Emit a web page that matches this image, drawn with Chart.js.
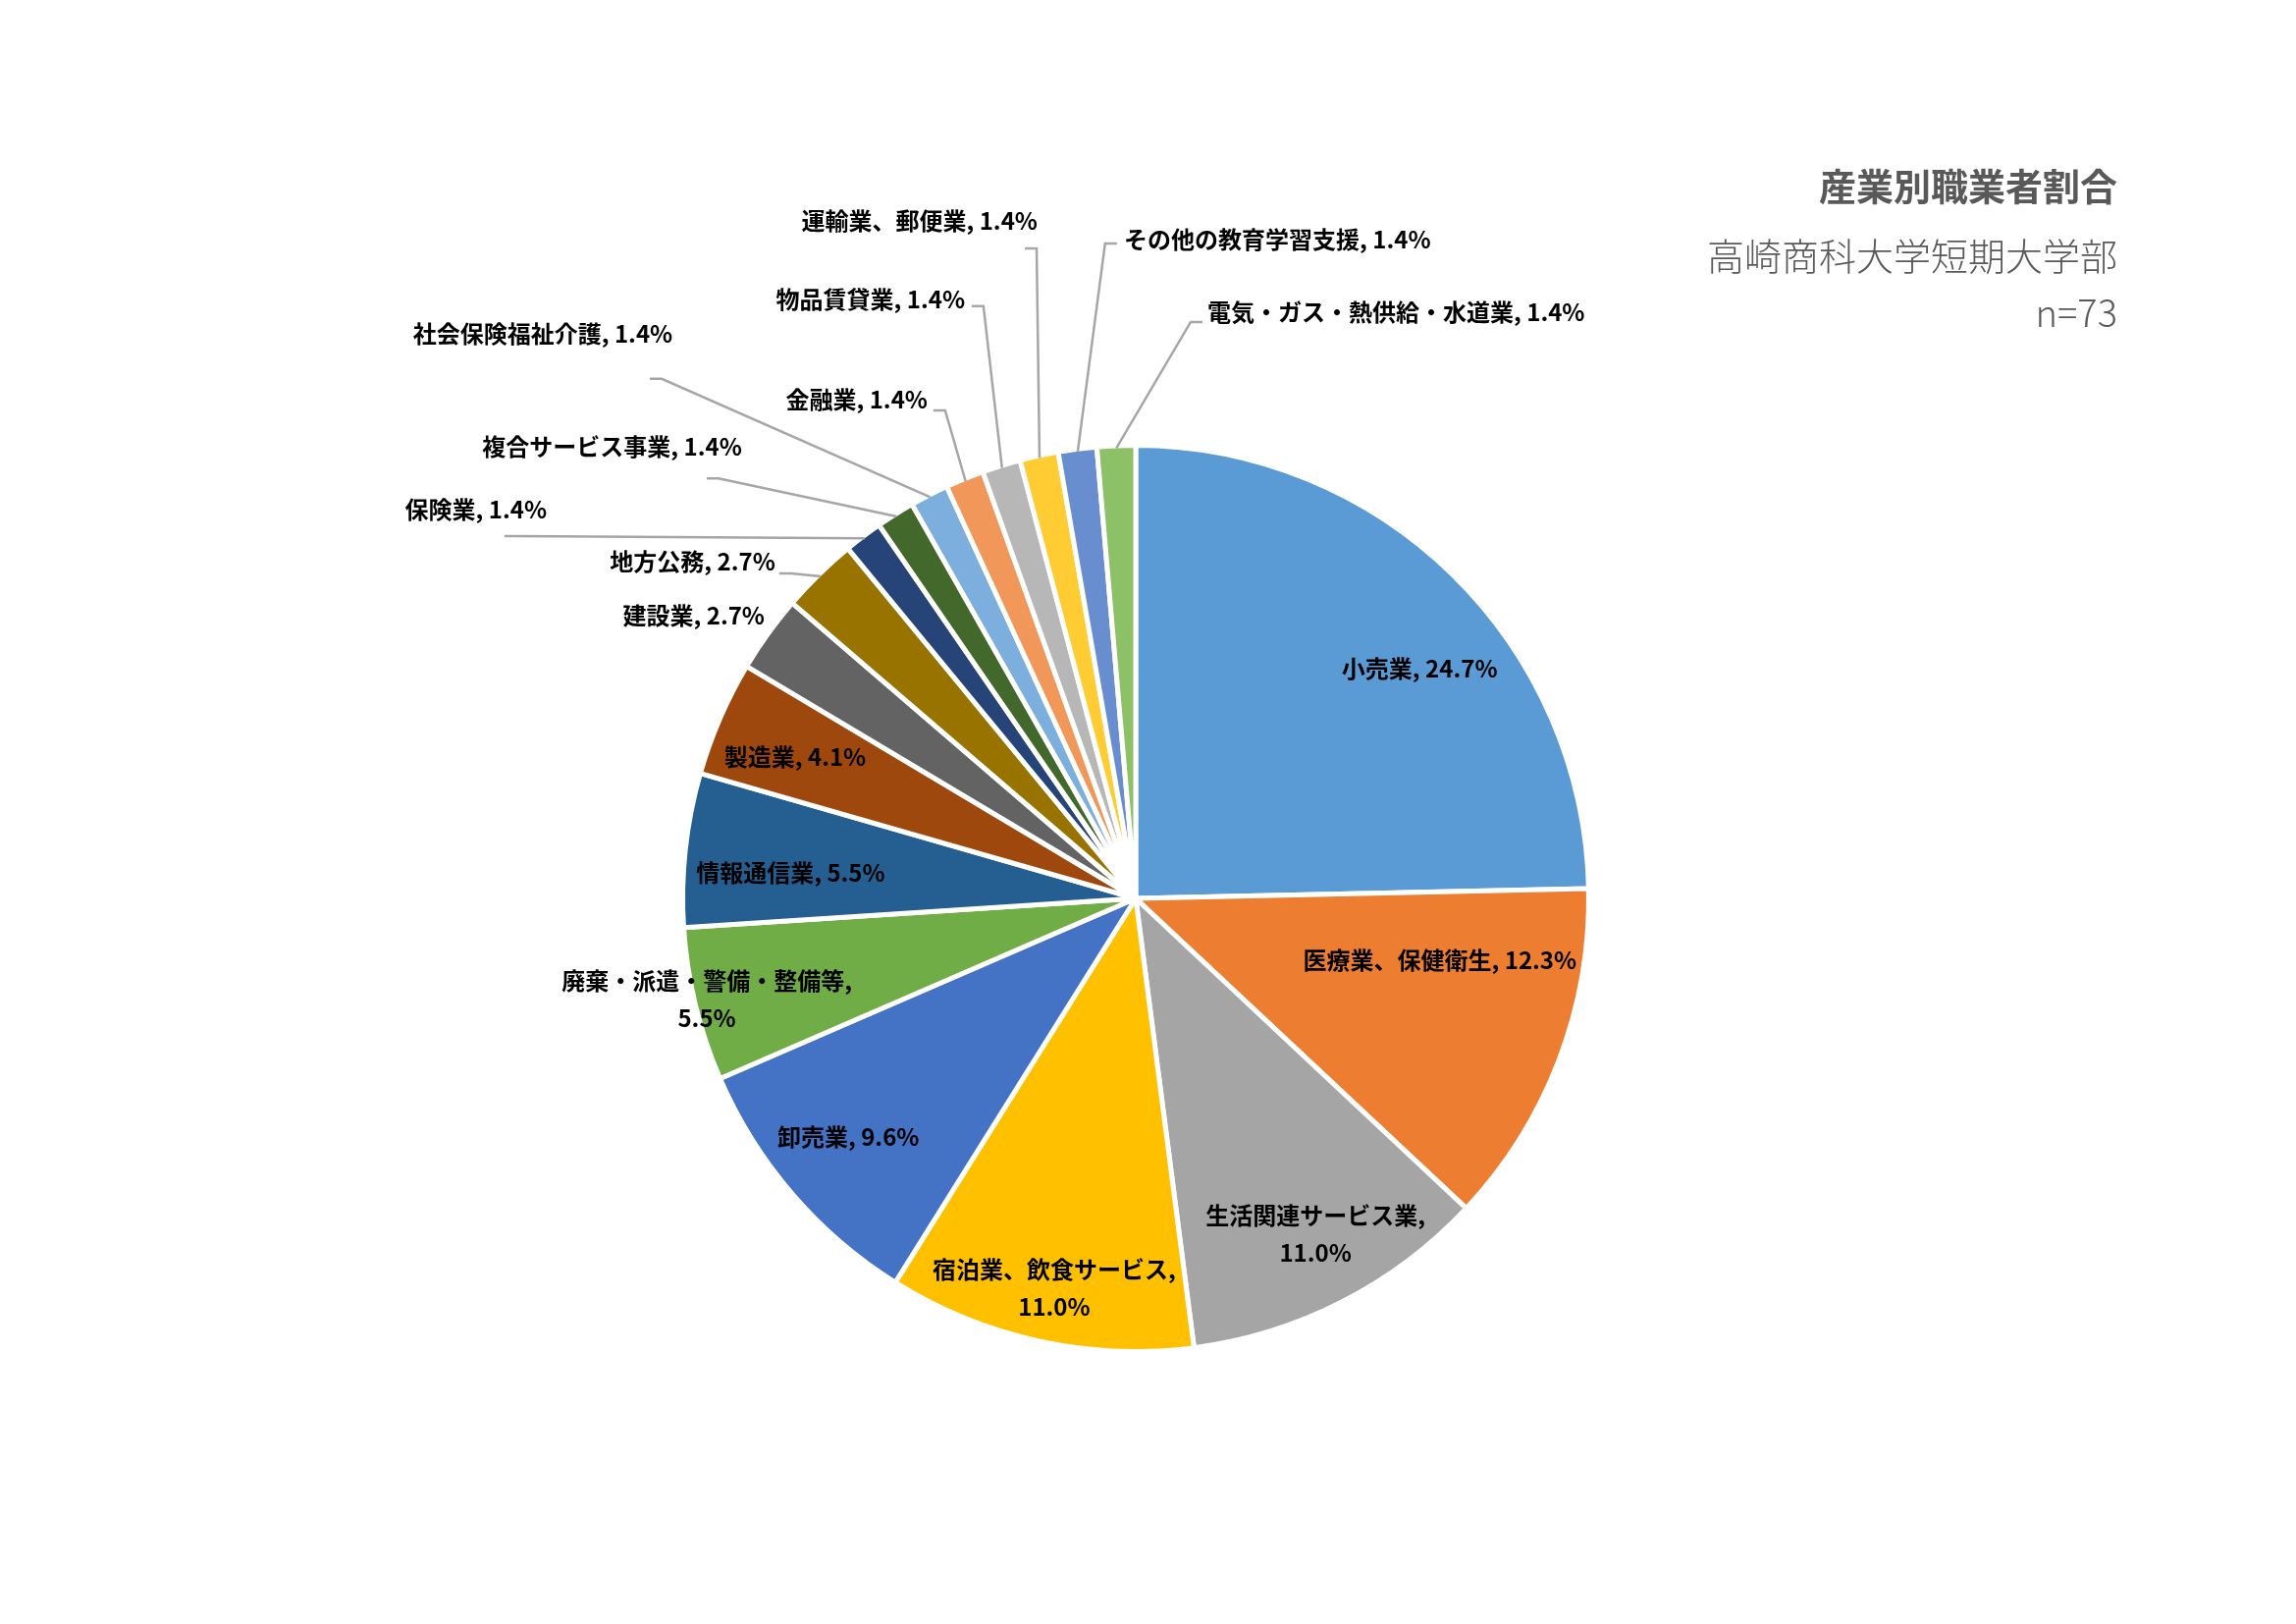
<!DOCTYPE html>
<html lang="ja">
<head>
<meta charset="utf-8">
<title>産業別職業者割合</title>
<script src="https://cdn.jsdelivr.net/npm/chart.js@4.4.1/dist/chart.umd.min.js"></script>
<style>
  html, body { margin: 0; padding: 0; background: #fff; }
  #wrap { position: relative; width: 2339px; height: 1654px; overflow: hidden; }
  #pie { position: absolute; left: 0; top: 0; }
  .ttl {
    position: absolute; right: 182px; color: #595959; white-space: nowrap;
    font-family: "Noto Sans CJK JP", sans-serif; font-size: 38px; line-height: 38px;
  }
</style>
</head>
<body>
<div id="wrap">
  <canvas id="pie" width="2339" height="1654"></canvas>
  <div class="ttl" style="top:169px; font-weight:bold;">産業別職業者割合</div>
  <div class="ttl" style="top:240px; font-weight:300;">高崎商科大学短期大学部</div>
  <div class="ttl" style="top:298px; font-weight:300;">n=73</div>
</div>
<script>
// データ（人数、n=73）
const categories = [
  '小売業', '医療業、保健衛生', '生活関連サービス業', '宿泊業、飲食サービス', '卸売業',
  '廃棄・派遣・警備・整備等', '情報通信業', '製造業', '建設業', '地方公務',
  '保険業', '複合サービス事業', '社会保険福祉介護', '金融業', '物品賃貸業',
  '運輸業、郵便業', 'その他の教育学習支援', '電気・ガス・熱供給・水道業'
];
const counts = [18, 9, 8, 8, 7, 4, 4, 3, 2, 2, 1, 1, 1, 1, 1, 1, 1, 1];
const sliceColors = [
  '#5B9BD5', '#ED7D31', '#A5A5A5', '#FFC000', '#4472C4', '#70AD47',
  '#255E91', '#9E480E', '#636363', '#997300', '#264478', '#43682B',
  '#7CAFDD', '#F1975A', '#B7B7B7', '#FFCD33', '#698ED0', '#8CC168'
];

// ラベル配置（円の中心からの位置、半径を1とした単位）
const labelPos = [
  [0.630, -0.509], [0.675, 0.137], [0.399, 0.745], [-0.181, 0.865], [-0.638, 0.530],
  [-0.952, 0.224], [-0.766, -0.058], [-0.756, -0.313], [-0.981, -0.627], [-0.800, -0.748],
  [-1.307, -0.863], [-0.874, -1.003], [-1.028, -1.253], [-0.462, -1.107], [-0.379, -1.329],
  [-0.218, -1.504], [-0.026, -1.462], [0.159, -1.301]
];
const labelAlign = [
  'center', 'center', 'center', 'center', 'center', 'center', 'center', 'center', 'center',
  'right', 'right', 'right', 'right', 'right', 'right', 'right', 'left', 'left'
];
const labelWrap = [false, false, true, true, false, true, false, false, false,
  false, false, false, false, false, false, false, false, false];
// 引き出し線の折れ点
const leaderElbow = [
  null, null, null, null, null, null, null, null, null,
  [-0.765, -0.721], [-1.375, -0.804], [-0.926, -0.932], [-1.052, -1.153], [-0.423, -1.083],
  [-0.338, -1.314], [-0.220, -1.442], [-0.068, -1.453], [0.122, -1.279]
];

const total = counts.reduce((a, b) => a + b, 0);
const BORDER = 5;

const sliceLabels = {
  id: 'sliceLabels',
  afterDatasetsDraw(chart) {
    const ctx = chart.ctx;
    const meta = chart.getDatasetMeta(0);
    ctx.save();
    meta.data.forEach((arc, i) => {
      const p = arc.getProps(['x', 'y', 'startAngle', 'endAngle', 'outerRadius'], true);
      const r = p.outerRadius - BORDER / 2;
      const lx = p.x + labelPos[i][0] * r;
      const ly = p.y + labelPos[i][1] * r;

      // 引き出し線
      if (leaderElbow[i]) {
        const mid = (p.startAngle + p.endAngle) / 2;
        const ex = p.x + leaderElbow[i][0] * r;
        const ey = p.y + leaderElbow[i][1] * r;
        const dir = labelAlign[i] === 'right' ? -1 : 1;
        ctx.strokeStyle = '#A6A6A6';
        ctx.lineWidth = 2.5;
        ctx.beginPath();
        ctx.moveTo(ex + dir * 12, ey);
        ctx.lineTo(ex, ey);
        ctx.lineTo(p.x + Math.cos(mid) * r, p.y + Math.sin(mid) * r);
        ctx.stroke();
      }

      const pct = (counts[i] / total * 100).toFixed(1) + '%';
      ctx.fillStyle = '#000';
      ctx.font = 'bold 24px "Noto Sans CJK JP", sans-serif';
      ctx.textAlign = labelAlign[i];
      ctx.textBaseline = 'middle';
      if (labelWrap[i]) {
        ctx.fillText(categories[i] + ',', lx, ly - 19);
        ctx.fillText(pct, lx, ly + 19);
      } else {
        ctx.fillText(categories[i] + ', ' + pct, lx, ly);
      }
    });
    ctx.restore();
  }
};

new Chart(document.getElementById('pie').getContext('2d'), {
  type: 'pie',
  data: {
    labels: categories,
    datasets: [{
      data: counts,
      backgroundColor: sliceColors,
      borderColor: '#ffffff',
      borderWidth: BORDER
    }]
  },
  options: {
    responsive: false,
    devicePixelRatio: 1,
    animation: false,
    layout: { padding: { left: 693, right: 718, top: 451, bottom: 275 } },
    plugins: {
      legend: { display: false },
      tooltip: { enabled: false },
      title: { display: false }
    }
  },
  plugins: [sliceLabels]
});
</script>
</body>
</html>
